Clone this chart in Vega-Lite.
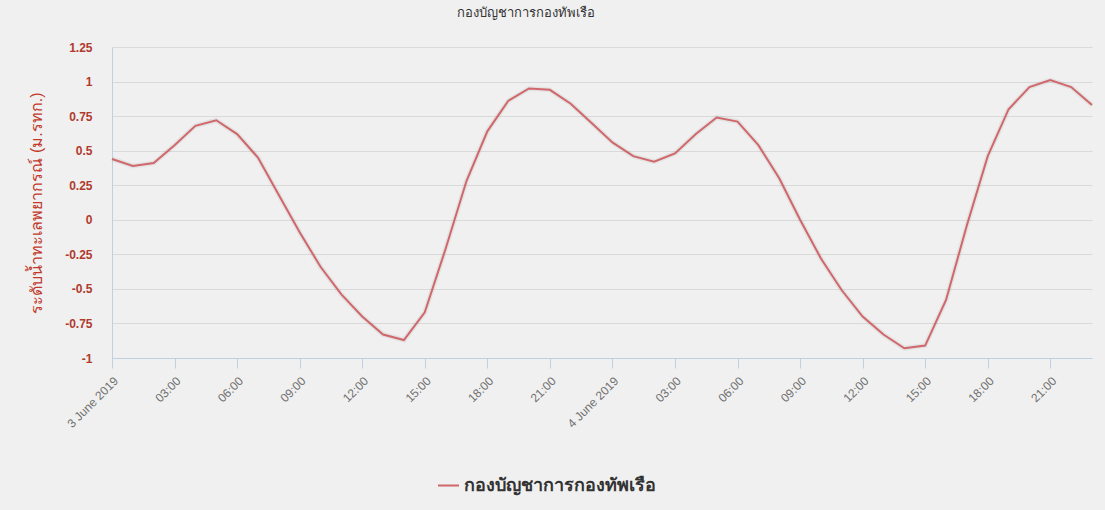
{
  "$schema": "https://vega.github.io/schema/vega-lite/v6.json",
  "autosize": {"type": "none"},
  "width": 980,
  "height": 311,
  "padding": {"left": 112, "top": 47, "right": 13, "bottom": 152},
  "background": "#f0f0f0",
  "title": {
    "text": "กองบัญชาการกองทัพเรือ",
    "fontSize": 13,
    "fontWeight": "normal",
    "color": "#333333",
    "anchor": "middle",
    "dx": -76,
    "offset": 21
  },
  "config": {"view": {"stroke": null}},
  "data": {
    "values": [
      {"t": "2019-06-03T00:00:00", "v": 0.44, "s": "กองบัญชาการกองทัพเรือ"},
      {"t": "2019-06-03T01:00:00", "v": 0.39, "s": "กองบัญชาการกองทัพเรือ"},
      {"t": "2019-06-03T02:00:00", "v": 0.41, "s": "กองบัญชาการกองทัพเรือ"},
      {"t": "2019-06-03T03:00:00", "v": 0.54, "s": "กองบัญชาการกองทัพเรือ"},
      {"t": "2019-06-03T04:00:00", "v": 0.68, "s": "กองบัญชาการกองทัพเรือ"},
      {"t": "2019-06-03T05:00:00", "v": 0.72, "s": "กองบัญชาการกองทัพเรือ"},
      {"t": "2019-06-03T06:00:00", "v": 0.62, "s": "กองบัญชาการกองทัพเรือ"},
      {"t": "2019-06-03T07:00:00", "v": 0.45, "s": "กองบัญชาการกองทัพเรือ"},
      {"t": "2019-06-03T08:00:00", "v": 0.18, "s": "กองบัญชาการกองทัพเรือ"},
      {"t": "2019-06-03T09:00:00", "v": -0.09, "s": "กองบัญชาการกองทัพเรือ"},
      {"t": "2019-06-03T10:00:00", "v": -0.34, "s": "กองบัญชาการกองทัพเรือ"},
      {"t": "2019-06-03T11:00:00", "v": -0.54, "s": "กองบัญชาการกองทัพเรือ"},
      {"t": "2019-06-03T12:00:00", "v": -0.70, "s": "กองบัญชาการกองทัพเรือ"},
      {"t": "2019-06-03T13:00:00", "v": -0.83, "s": "กองบัญชาการกองทัพเรือ"},
      {"t": "2019-06-03T14:00:00", "v": -0.87, "s": "กองบัญชาการกองทัพเรือ"},
      {"t": "2019-06-03T15:00:00", "v": -0.67, "s": "กองบัญชาการกองทัพเรือ"},
      {"t": "2019-06-03T16:00:00", "v": -0.21, "s": "กองบัญชาการกองทัพเรือ"},
      {"t": "2019-06-03T17:00:00", "v": 0.28, "s": "กองบัญชาการกองทัพเรือ"},
      {"t": "2019-06-03T18:00:00", "v": 0.64, "s": "กองบัญชาการกองทัพเรือ"},
      {"t": "2019-06-03T19:00:00", "v": 0.86, "s": "กองบัญชาการกองทัพเรือ"},
      {"t": "2019-06-03T20:00:00", "v": 0.95, "s": "กองบัญชาการกองทัพเรือ"},
      {"t": "2019-06-03T21:00:00", "v": 0.94, "s": "กองบัญชาการกองทัพเรือ"},
      {"t": "2019-06-03T22:00:00", "v": 0.84, "s": "กองบัญชาการกองทัพเรือ"},
      {"t": "2019-06-03T23:00:00", "v": 0.70, "s": "กองบัญชาการกองทัพเรือ"},
      {"t": "2019-06-04T00:00:00", "v": 0.56, "s": "กองบัญชาการกองทัพเรือ"},
      {"t": "2019-06-04T01:00:00", "v": 0.46, "s": "กองบัญชาการกองทัพเรือ"},
      {"t": "2019-06-04T02:00:00", "v": 0.42, "s": "กองบัญชาการกองทัพเรือ"},
      {"t": "2019-06-04T03:00:00", "v": 0.48, "s": "กองบัญชาการกองทัพเรือ"},
      {"t": "2019-06-04T04:00:00", "v": 0.62, "s": "กองบัญชาการกองทัพเรือ"},
      {"t": "2019-06-04T05:00:00", "v": 0.74, "s": "กองบัญชาการกองทัพเรือ"},
      {"t": "2019-06-04T06:00:00", "v": 0.71, "s": "กองบัญชาการกองทัพเรือ"},
      {"t": "2019-06-04T07:00:00", "v": 0.54, "s": "กองบัญชาการกองทัพเรือ"},
      {"t": "2019-06-04T08:00:00", "v": 0.30, "s": "กองบัญชาการกองทัพเรือ"},
      {"t": "2019-06-04T09:00:00", "v": 0.00, "s": "กองบัญชาการกองทัพเรือ"},
      {"t": "2019-06-04T10:00:00", "v": -0.28, "s": "กองบัญชาการกองทัพเรือ"},
      {"t": "2019-06-04T11:00:00", "v": -0.51, "s": "กองบัญชาการกองทัพเรือ"},
      {"t": "2019-06-04T12:00:00", "v": -0.70, "s": "กองบัญชาการกองทัพเรือ"},
      {"t": "2019-06-04T13:00:00", "v": -0.83, "s": "กองบัญชาการกองทัพเรือ"},
      {"t": "2019-06-04T14:00:00", "v": -0.93, "s": "กองบัญชาการกองทัพเรือ"},
      {"t": "2019-06-04T15:00:00", "v": -0.91, "s": "กองบัญชาการกองทัพเรือ"},
      {"t": "2019-06-04T16:00:00", "v": -0.58, "s": "กองบัญชาการกองทัพเรือ"},
      {"t": "2019-06-04T17:00:00", "v": -0.04, "s": "กองบัญชาการกองทัพเรือ"},
      {"t": "2019-06-04T18:00:00", "v": 0.46, "s": "กองบัญชาการกองทัพเรือ"},
      {"t": "2019-06-04T19:00:00", "v": 0.80, "s": "กองบัญชาการกองทัพเรือ"},
      {"t": "2019-06-04T20:00:00", "v": 0.96, "s": "กองบัญชาการกองทัพเรือ"},
      {"t": "2019-06-04T21:00:00", "v": 1.01, "s": "กองบัญชาการกองทัพเรือ"},
      {"t": "2019-06-04T22:00:00", "v": 0.96, "s": "กองบัญชาการกองทัพเรือ"},
      {"t": "2019-06-04T23:00:00", "v": 0.83, "s": "กองบัญชาการกองทัพเรือ"}
    ]
  },
  "encoding": {
    "x": {
      "field": "t",
      "type": "temporal",
      "scale": {"domain": ["2019-06-03T00:00:00", "2019-06-04T23:00:00"], "nice": false},
      "axis": {
        "title": null,
        "grid": false,
        "values": [
          "2019-06-03T00:00:00", "2019-06-03T03:00:00", "2019-06-03T06:00:00", "2019-06-03T09:00:00",
          "2019-06-03T12:00:00", "2019-06-03T15:00:00", "2019-06-03T18:00:00", "2019-06-03T21:00:00",
          "2019-06-04T00:00:00", "2019-06-04T03:00:00", "2019-06-04T06:00:00", "2019-06-04T09:00:00",
          "2019-06-04T12:00:00", "2019-06-04T15:00:00", "2019-06-04T18:00:00", "2019-06-04T21:00:00"
        ],
        "labelExpr": "hours(datum.value) == 0 ? timeFormat(datum.value, '%-d %B %Y') : timeFormat(datum.value, '%H:%M')",
        "labelAngle": -45,
        "labelFontSize": 12,
        "labelColor": "#707070",
        "labelPadding": 7,
        "domainColor": "#c0d0e0",
        "tickColor": "#c0d0e0",
        "tickSize": 10
      }
    },
    "y": {
      "field": "v",
      "type": "quantitative",
      "scale": {"domain": [-1, 1.25], "nice": false, "zero": false},
      "axis": {
        "title": "ระดับน้ำทะเลพยากรณ์ (ม.รทก.)",
        "titleColor": "#c0392b",
        "titleFontSize": 16,
        "titleFontWeight": "normal",
        "titlePadding": 20,
        "values": [-1, -0.75, -0.5, -0.25, 0, 0.25, 0.5, 0.75, 1, 1.25],
        "labelExpr": "'' + datum.value",
        "labelColor": "#b03a2e",
        "labelFontSize": 12,
        "labelFontWeight": "bold",
        "labelPadding": 20,
        "ticks": false,
        "domainColor": "#c0d0e0",
        "gridColor": "#d9d9d9"
      }
    }
  },
  "layer": [
    {
      "mark": {"type": "line", "stroke": "#000000", "strokeWidth": 5, "opacity": 0.05, "dx": 1, "dy": 1}
    },
    {
      "mark": {"type": "line", "strokeWidth": 2},
      "encoding": {
        "color": {
          "field": "s",
          "type": "nominal",
          "scale": {"range": ["#d0676b"]},
          "legend": {
            "title": null,
            "orient": "none",
            "legendX": 325,
            "legendY": 427,
            "symbolType": "stroke",
            "symbolSize": 441,
            "symbolStrokeWidth": 2,
            "labelFontSize": 18,
            "labelFontWeight": "bold",
            "labelColor": "#333333",
            "labelLimit": 400
          }
        }
      }
    }
  ]
}
